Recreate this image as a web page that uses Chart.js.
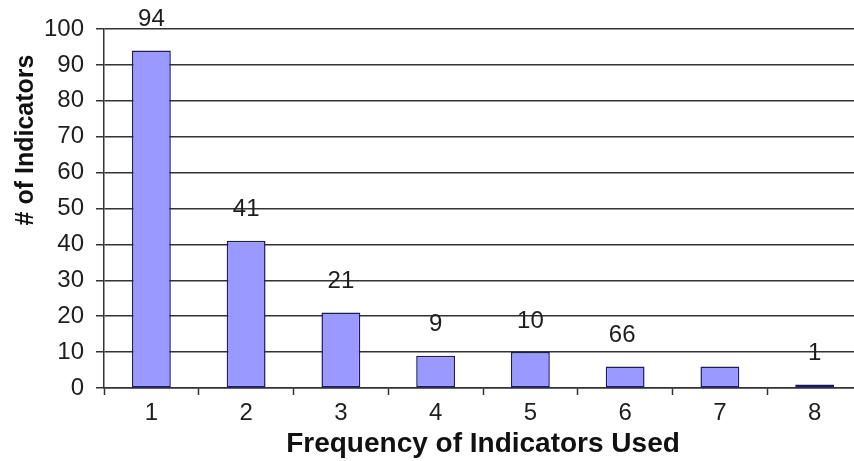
<!DOCTYPE html>
<html>
<head>
<meta charset="utf-8">
<script src="https://cdn.jsdelivr.net/npm/chart.js@4/dist/chart.umd.min.js"></script>
<style>
  html, body { margin: 0; padding: 0; background: #fff; overflow: hidden; }
  #wrap { width: 862px; height: 461px; }
</style>
</head>
<body>
<div id="wrap"><canvas id="freqChart" width="862" height="461"></canvas></div>
<script>
const categories = ['1', '2', '3', '4', '5', '6', '7', '8'];
const indicatorCounts = [94, 41, 21, 9, 10, 6, 6, 1];
// labels as printed in the picture (the 6 and 7 labels overlap into "66")
const valueLabels = ['94', '41', '21', '9', '10', '66', '', '1'];
const yTicks = [0, 10, 20, 30, 40, 50, 60, 70, 80, 90, 100];
const yTitle = '# of Indicators';
const xTitle = 'Frequency of Indicators Used';

const lineColor = '#333333';
const textColor = '#1e1e1e';
const fontFamily = '"Liberation Sans", Arial, sans-serif';

const valueLabelPlugin = {
    id: 'valueLabels',
    afterDatasetsDraw(chart) {
        const { ctx } = chart;
        const meta = chart.getDatasetMeta(0);
        ctx.save();
        ctx.font = '24px ' + fontFamily;
        ctx.fillStyle = textColor;
        ctx.textAlign = 'center';
        ctx.textBaseline = 'middle';
        meta.data.forEach((bar, i) => {
            if (!valueLabels[i]) return;
            const xOff = i === 5 ? -3 : 0;
            ctx.fillText(valueLabels[i], bar.x + xOff, bar.y - 31);
        });
        ctx.restore();
    }
};

// the y title sits above the middle of the axis in the original, so draw it by hand
const yTitlePlugin = {
    id: 'yTitle',
    afterDraw(chart) {
        const { ctx } = chart;
        ctx.save();
        ctx.translate(26, 140);
        ctx.rotate(-Math.PI / 2);
        ctx.font = 'bold 25px ' + fontFamily;
        ctx.fillStyle = '#111';
        ctx.textAlign = 'center';
        ctx.textBaseline = 'middle';
        ctx.fillText(yTitle, 0, 0);
        ctx.restore();
    }
};

new Chart(document.getElementById('freqChart'), {
    type: 'bar',
    data: {
        labels: categories,
        datasets: [{
            label: yTitle,
            data: indicatorCounts,
            backgroundColor: '#9999ff',
            borderColor: '#1a1a66',
            borderWidth: 1.5,
            borderSkipped: false,
            barPercentage: 0.41,
            categoryPercentage: 1.0,
        }]
    },
    options: {
        responsive: false,
        animation: false,
        layout: { padding: { top: 29, left: 10, right: 0, bottom: 0 } },
        plugins: {
            legend: { display: false },
            tooltip: { enabled: false },
        },
        scales: {
            x: {
                offset: true,
                grid: {
                    offset: true,
                    drawOnChartArea: false,
                    drawTicks: true,
                    tickLength: 7,
                    tickColor: lineColor,
                    tickWidth: 1.5,
                },
                border: { color: lineColor, width: 1.5 },
                ticks: {
                    color: textColor,
                    font: { family: fontFamily, size: 24 },
                    padding: 4,
                },
                title: {
                    display: true,
                    text: xTitle,
                    color: '#111',
                    font: { family: fontFamily, size: 28, weight: 'bold' },
                    padding: { top: 0, bottom: 0 },
                },
                afterFit(scale) { scale.height = 73; },
            },
            y: {
                min: 0,
                max: 100,
                afterBuildTicks(scale) { scale.ticks = yTicks.map(v => ({ value: v })); },
                grid: {
                    color: lineColor,
                    lineWidth: 1.5,
                    drawTicks: true,
                    tickLength: 8,
                    tickColor: lineColor,
                },
                border: { color: lineColor, width: 1.5 },
                ticks: {
                    color: textColor,
                    font: { family: fontFamily, size: 24 },
                    padding: 12,
                },
                title: { display: false },
                afterFit(scale) { scale.width = 94; },
            }
        }
    },
    plugins: [valueLabelPlugin, yTitlePlugin]
});
</script>
</body>
</html>
